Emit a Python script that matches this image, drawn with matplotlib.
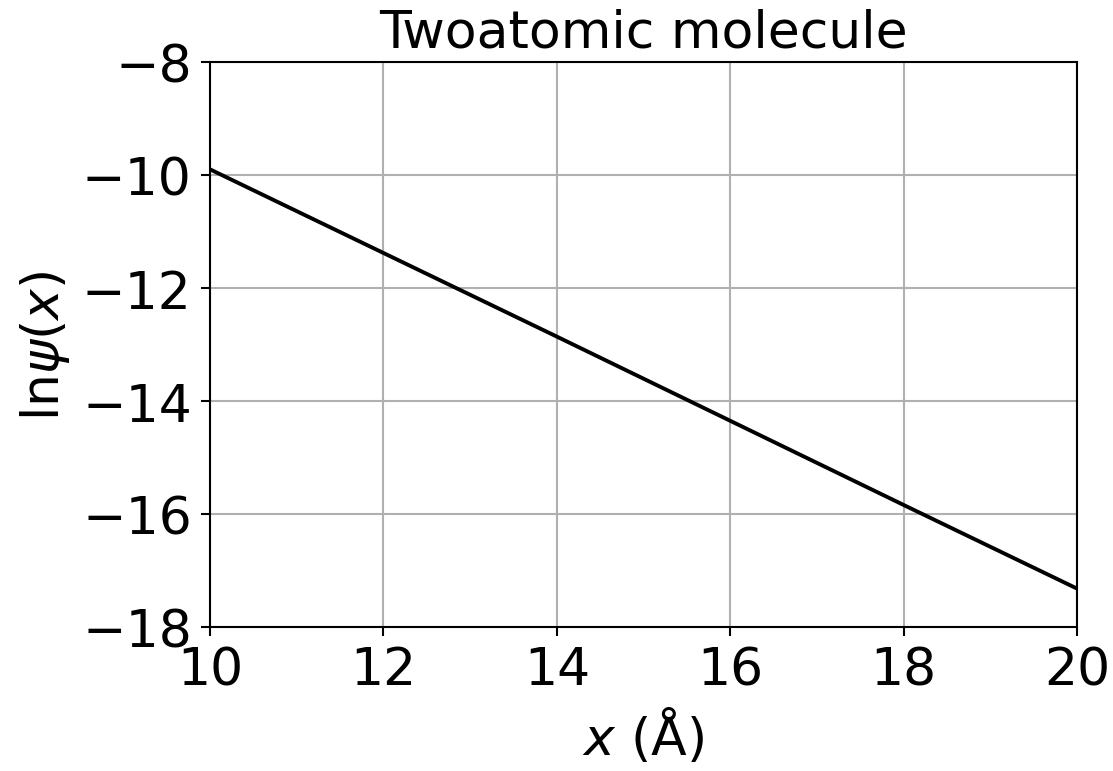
#Import libraries
import matplotlib
matplotlib.use("Agg")
import matplotlib.pyplot as plt

#Values
x_data = [10, 12, 14, 16, 18, 20]
y_data = [-9.90, -11.38, -12.86, -14.35, -15.84, -17.32]

x_ticks = [10, 12, 14, 16, 18, 20]
y_ticks = [-18, -16, -14, -12, -10, -8]

plt.rcParams['font.size'] = 20

#Set up the figure
fig, ax = plt.subplots(figsize=(1113/187, 772/187), dpi=187)
fig.subplots_adjust(left=0.1887, right=0.9677, top=0.9184, bottom=0.1865)

#Plot the line
ax.plot(x_data, y_data, color='black', linewidth=1.5)

#Axes limits and ticks
ax.set_xlim(10, 20)
ax.set_ylim(-18, -8)
ax.set_xticks(x_ticks)
ax.set_yticks(y_ticks)
ax.grid(True)

#Labels and title
ax.set_xlabel(r'$x$ (Å)')
ax.set_ylabel(r'ln$\psi(x)$')
ax.set_title('Twoatomic molecule', fontsize=20)

#Save the figure
fig.savefig("out.png", dpi=187)
